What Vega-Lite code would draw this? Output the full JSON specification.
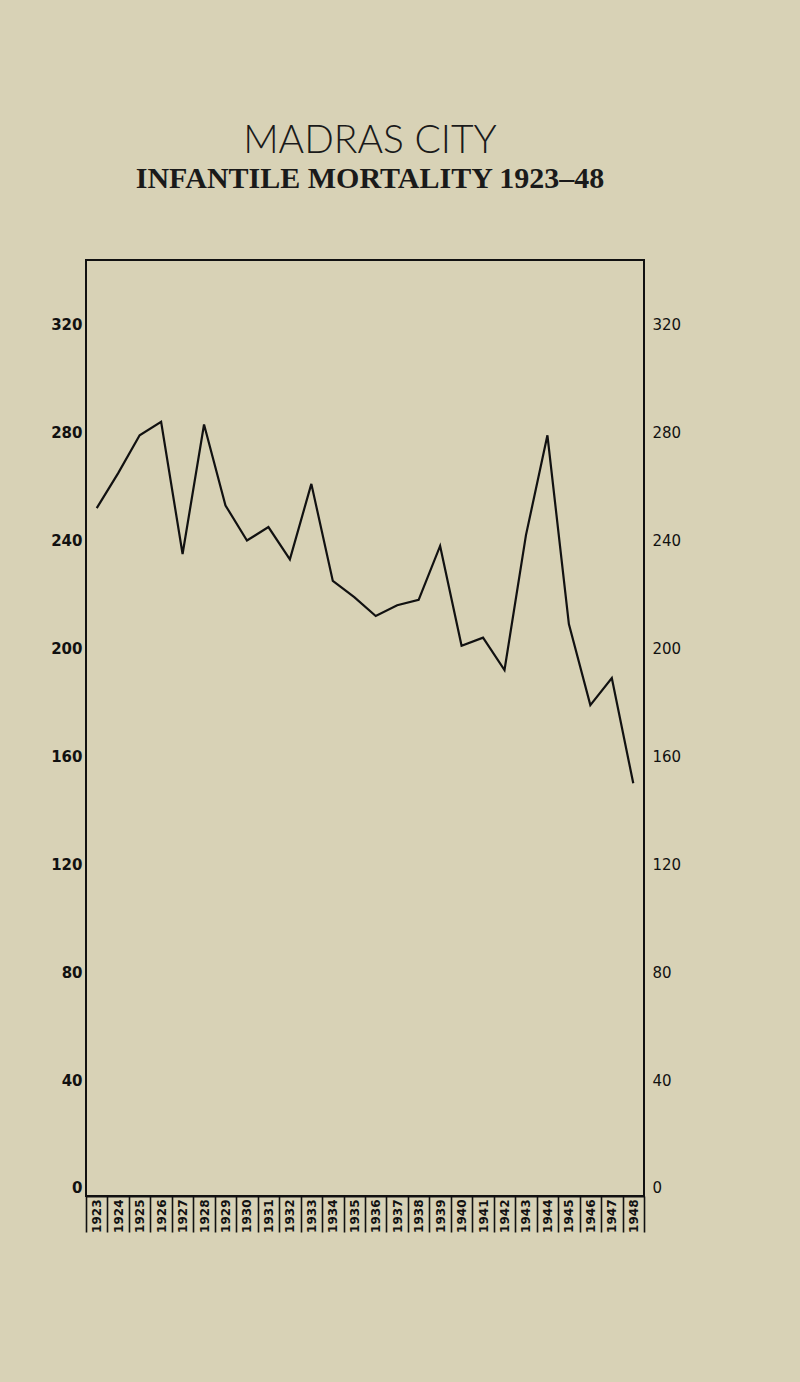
{
  "$schema": "https://vega.github.io/schema/vega-lite/v6.json",
  "width": 558,
  "height": 936,
  "autosize": {"type": "none"},
  "padding": {"left": 86, "top": 260, "right": 156, "bottom": 186},
  "background": "#d8d2b6",
  "title": {
    "text": "MADRAS CITY",
    "subtitle": "INFANTILE MORTALITY 1923–48",
    "anchor": "middle",
    "frame": "group",
    "offset": 66,
    "dx": 5,
    "font": "Lato",
    "fontSize": 39,
    "fontWeight": 300,
    "color": "#1a1a1a",
    "subtitleFont": "Liberation Serif",
    "subtitleFontSize": 30,
    "subtitleFontWeight": "bold",
    "subtitleColor": "#1a1a1a",
    "subtitlePadding": 3
  },
  "config": {
    "view": {"stroke": "#111111", "strokeWidth": 2},
    "axis": {"grid": false}
  },
  "data": {
    "values": [
      {"year": "1923", "rate": 252},
      {"year": "1924", "rate": 265},
      {"year": "1925", "rate": 279},
      {"year": "1926", "rate": 284},
      {"year": "1927", "rate": 235},
      {"year": "1928", "rate": 283},
      {"year": "1929", "rate": 253},
      {"year": "1930", "rate": 240},
      {"year": "1931", "rate": 245},
      {"year": "1932", "rate": 233},
      {"year": "1933", "rate": 261},
      {"year": "1934", "rate": 225},
      {"year": "1935", "rate": 219},
      {"year": "1936", "rate": 212},
      {"year": "1937", "rate": 216},
      {"year": "1938", "rate": 218},
      {"year": "1939", "rate": 238},
      {"year": "1940", "rate": 201},
      {"year": "1941", "rate": 204},
      {"year": "1942", "rate": 192},
      {"year": "1943", "rate": 242},
      {"year": "1944", "rate": 279},
      {"year": "1945", "rate": 209},
      {"year": "1946", "rate": 179},
      {"year": "1947", "rate": 189},
      {"year": "1948", "rate": 150}
    ]
  },
  "layer": [
    {
      "mark": {"type": "line", "color": "#111111", "strokeWidth": 2.2, "strokeJoin": "miter"},
      "encoding": {
        "x": {
          "field": "year",
          "type": "ordinal",
          "scale": {"paddingInner": 0, "paddingOuter": 0},
          "axis": {
            "title": null,
            "orient": "bottom",
            "domain": true,
            "domainColor": "#111111",
            "domainWidth": 2,
            "ticks": true,
            "tickBand": "extent",
            "tickSize": 36,
            "tickColor": "#111111",
            "tickWidth": 1.6,
            "labelAngle": -90,
            "labelAlign": "right",
            "labelBaseline": "middle",
            "labelPadding": -33,
            "labelFont": "DejaVu Sans",
            "labelFontWeight": "bold",
            "labelFontSize": 12,
            "labelColor": "#111111",
            "labelOverlap": false
          }
        },
        "y": {
          "field": "rate",
          "type": "quantitative",
          "scale": {"domain": [-3, 344], "nice": false, "zero": false},
          "axis": {
            "title": null,
            "orient": "left",
            "values": [0, 40, 80, 120, 160, 200, 240, 280, 320],
            "domain": false,
            "ticks": false,
            "labelPadding": 4,
            "labelFont": "DejaVu Sans",
            "labelFontWeight": "bold",
            "labelFontSize": 15,
            "labelColor": "#111111"
          }
        }
      }
    },
    {
      "mark": {"type": "point", "opacity": 0},
      "encoding": {
        "x": {"field": "year", "type": "ordinal"},
        "y": {
          "field": "rate",
          "type": "quantitative",
          "axis": {
            "title": null,
            "orient": "right",
            "values": [0, 40, 80, 120, 160, 200, 240, 280, 320],
            "domain": false,
            "ticks": false,
            "labelPadding": 8,
            "labelFont": "DejaVu Sans",
            "labelFontSize": 15,
            "labelColor": "#111111"
          }
        }
      }
    }
  ]
}
